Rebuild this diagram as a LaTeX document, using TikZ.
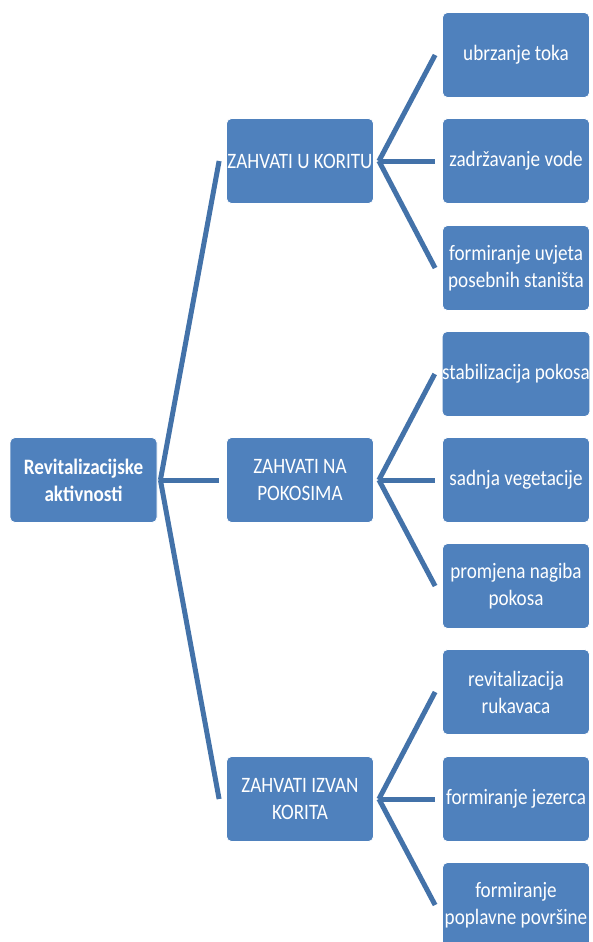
\documentclass[tikz,border=0pt]{standalone}
\usepackage{fontspec}
\setmainfont[FakeStretch=0.87]{Carlito}
\usepackage{xcolor}
\usetikzlibrary{positioning}
\definecolor{boxblue}{HTML}{4F81BD}
\definecolor{lineblue}{HTML}{4372A9}

\begin{document}
\begin{tikzpicture}[x=1pt, y=-1pt,
  box/.style={draw=white, line width=0.8pt, fill=boxblue, rounded corners=5pt,
    minimum width=147pt, minimum height=85pt, inner sep=0pt,
    text=white, align=center, font=\fontsize{22}{27}\selectfont},
  link/.style={draw=lineblue, line width=5pt}]

\useasboundingbox (0,0) rectangle (592,942);

% Root box
\node[box, font=\bfseries\fontsize{22}{27}\selectfont] (root) at (83.5,480) {Revitalizacijske\\aktivnosti};

% Second level
\node[box] (koritu) at (300,161) {ZAHVATI U KORITU};
\node[box] (pokosi) at (300,480) {ZAHVATI NA\\POKOSIMA};
\node[box] (izvan) at (300,799) {ZAHVATI IZVAN\\KORITA};

% Third level
\node[box] (ubrz) at (516,55) {ubrzanje toka};
\node[box] (zadr) at (516,161) {zadržavanje vode};
\node[box] (uvjet) at (516,268) {formiranje uvjeta\\posebnih staništa};
\node[box] (stab) at (516,374) {stabilizacija pokosa};
\node[box] (sadnja) at (516,480) {sadnja vegetacije};
\node[box] (nagib) at (516,586) {promjena nagiba\\pokosa};
\node[box] (rukav) at (516,692) {revitalizacija\\rukavaca};
\node[box] (jezer) at (516,799) {formiranje jezerca};
\node[box] (poplav) at (516,905) {formiranje\\poplavne površine};

% Links from the root
\foreach \child in {koritu, pokosi, izvan}
  \draw[link] ([xshift=3pt]root.east) -- ([xshift=-7pt]\child.west);

% Links from the second level
\foreach \child in {ubrz, zadr, uvjet}
  \draw[link] ([xshift=5pt]koritu.east) -- ([xshift=-7pt]\child.west);
\foreach \child in {stab, sadnja, nagib}
  \draw[link] ([xshift=5pt]pokosi.east) -- ([xshift=-7pt]\child.west);
\foreach \child in {rukav, jezer, poplav}
  \draw[link] ([xshift=5pt]izvan.east) -- ([xshift=-7pt]\child.west);

\end{tikzpicture}
\end{document}
